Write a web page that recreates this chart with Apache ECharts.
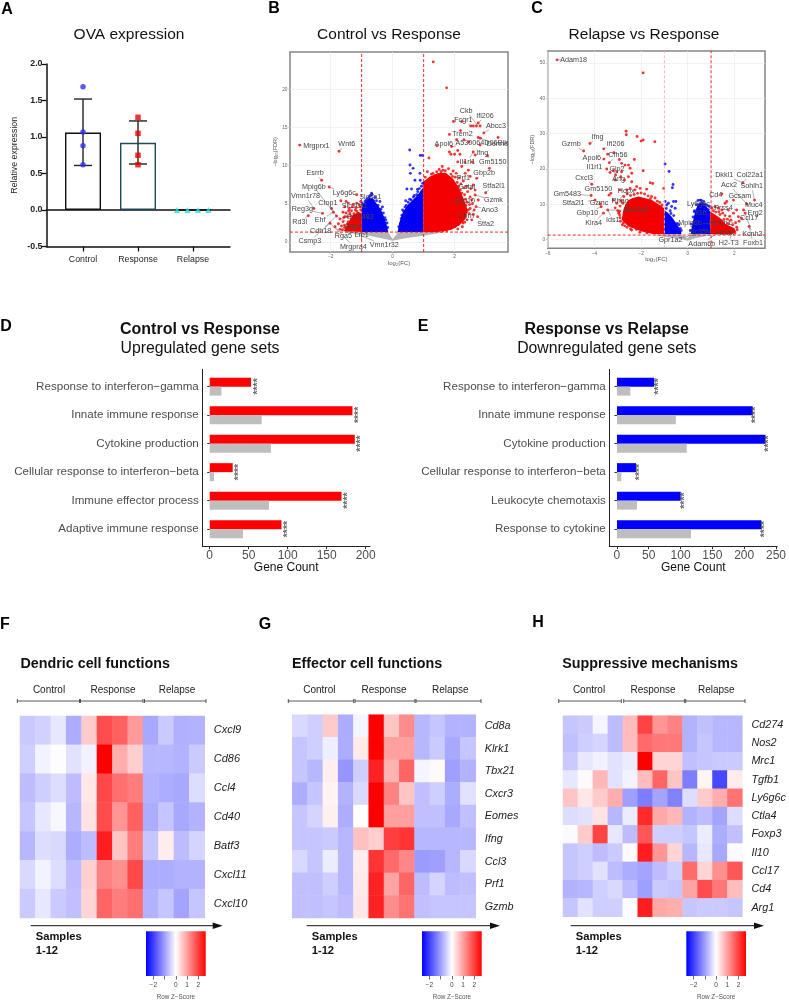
<!DOCTYPE html>
<html>
<head>
<meta charset="utf-8">
<style>html,body{margin:0;padding:0;background:#fff}#c{width:789px;height:1008px}</style>
<script src="https://cdn.jsdelivr.net/npm/echarts@6/dist/echarts.min.js"></script>
</head>
<body>
<div id="c"></div>
<script>
// ---------- Panel A ----------
const ovaGroups = ['Control', 'Response', 'Relapse'];
const ovaMeans = [1.06, 0.92, 0];
const ovaErrLow = [0.61, 0.63, 0];
const ovaErrHigh = [1.52, 1.22, 0];
const ovaControl = [[0, 1.69], [0, 1.07], [0, 0.88], [0, 0.62]];
const ovaResponse = [[1, 1.27], [1, 1.05], [1, 0.75], [1, 0.62]];
const ovaRelapse = [[1.71, 0], [1.90, 0], [2.09, 0], [2.28, 0]];

// ---------- Panel B volcano (log2FC, -log10FDR) ----------
const bGrayCloud = [[-1.6,1.3],[-0.89,0.92],[-0.35,0.48],[0,0.17],[0.4,0.48],[0.94,0.79],[1.69,1.3],[0.18,1.3],[0,0.35],[-0.14,1.3]];
const bBlueCloudL = [[-1,1.3],[-1,4.4],[-0.95,4.9],[-0.85,5.4],[-0.75,5.8],[-0.65,5.8],[-0.55,5.2],[-0.45,4.7],[-0.35,4],[-0.27,3.2],[-0.2,2.4],[-0.14,1.3]];
const bBlueCloudR = [[0.16,1.3],[0.22,2.6],[0.3,3.6],[0.4,4.4],[0.5,4.9],[0.6,5.3],[0.72,5.8],[0.85,6.4],[0.99,7.2],[0.99,1.3]];
const bRedCloudR = [[0.99,1.3],[0.99,7.9],[1.2,8.6],[1.45,9],[1.7,9.1],[1.95,8.3],[2.12,7.2],[2.28,5.8],[2.42,4.2],[2.35,3],[2.15,2.2],[1.9,1.6],[1.47,1.3]];
const bRedCloudL = [[-1,1.3],[-1,3.8],[-1.12,3.9],[-1.25,3.6],[-1.37,3],[-1.48,2.1],[-1.58,1.4]];
const bRedPts = [[1.31,23.6],[1.74,20.2],[-3,12.7],[-1.73,11.9],[1.96,15.8],[2.23,15.8],[2.52,15.2],[2.6,15.2],[2.7,15.2],[2.76,15.6],[2.82,15.2],[2.94,14.3],[1.83,14.1],[2.19,14.6],[2.06,13.4],[2.3,13.4],[2.46,13.1],[2.76,13.7],[2.83,13.6],[3.4,13.7],[1.43,12.6],[1.9,12.5],[2.82,12.7],[3.06,11.3],[1.83,11.8],[1.88,11.5],[2.1,12],[2,11.5],[2.17,11.5],[2.6,11.8],[2.66,11.4],[2.1,10.5],[2.33,10.5],[2.57,10.5],[3.12,9.65],[1.17,11],[2.23,9.9],[2.44,9.4],[2.71,8.34],[2.5,8.6],[2.34,9],[3,6.46],[2.66,6.8],[2.6,7.47],[2.39,7.3],[2.5,5.9],[2.66,6.16],[2.74,3.32],[2.69,4.63],[2.63,4.19],[2.76,5.5],[2.55,5.5],[2.44,4.2],[2.33,3.3],[2.28,4.6],[2.17,2.9],[2.0,2.0],[1.84,2.0],[2.23,6.4],[2.12,7.3],[1.8,9.6],[1.95,9.3],[2.05,9.0],[2.15,8.4],[2.28,8.0],[2.42,6.6],[2.48,4.9],[2.38,3.9],[1.7,9.35],[1.5,9.5],[1.3,9.0],[1.12,9.2],[1.05,8.5],[2.25,2.0],[2.1,1.7],[1.75,1.5],[2.55,2.9],[2.6,3.6],[2.35,5.6],[2.3,7.1],[2.52,7.0],[1.6,9.9],[1.2,8.3],[1.42,9.2],
[2.2,7.6],[2.02,8.5],[1.88,8.9],[1.62,9.4],[1.36,8.7],[1.08,7.9],[2.32,6.2],[2.4,5.2],[2.47,3.7],[2.4,2.9],[2.27,2.5],[2.05,2.25],[1.82,1.75],[1.62,1.45],[2.18,6.8],[2.08,7.8],[2.36,4.8],[2.5,4.4],[2.57,5],[2.2,3],[2.32,2.6],[1.56,9.2],[1.25,8.9],[1.93,8.6],
[-2.29,8.1],[-2.05,7.2],[-1.67,5.4],[-1.5,5.3],[-1.16,6.2],[-2.54,4.4],[-2.26,3.75],[-2.72,3.45],[-1.97,4.4],[-1.91,3.9],[-1.81,3.4],[-2.02,2.45],[-1.86,2],[-1.7,1.66],[-1.54,4.6],[-1.43,5.1],[-1.3,4.6],[-1.16,5.1],[-1.54,3.3],[-1.38,3.75],[-1.27,3.3],[-1.1,3.75],[-1.05,4.6],[-1.6,2.67],[-1.43,2.67],[-1.3,2.2],[-1.16,2.67],[-1.05,2],[-1.5,1.57],[-1.22,1.57],[-1.6,3.9],[-1.33,4.1],[-1.2,4.2],[-1.08,4.9],[-1.65,2.1],[-1.45,3.3],[-1.12,3.1],[-1.25,3.7],[-1.7,3],[-1.03,5.3],
[-1.4,4.4],[-1.28,4.9],[-1.18,4.5],[-1.5,3.8],[-1.35,3.4],[-1.58,3.2],[-1.45,2.4],[-1.55,2.2],[-1.03,4.2],[-1.15,4],[-1.42,4.1],[-1.55,1.9],[-1.62,1.6],[-1.75,2.4],[-1.4,1.8]];
const bBluePts = [[0.55,12.05],[0.89,11.35],[0.96,11.35],[0.56,10.1],[0.66,9.65],[0.57,9],[0.88,9],[0.72,8.1],[0.89,8.1],[0.46,6.95],[0.61,6.95],[0.81,6.6],[0.67,5.9],[0.94,6.6],[-0.68,6.4],[-0.81,5.7],[-0.57,5.85],[-0.41,5.3],[-0.89,5.3],[-0.33,4.6],[0.4,4.6],[0.5,5.2],[0.78,6.2],[0.93,7.3],[-0.72,6.1],[-0.62,5.4],[-0.95,4.9],[-0.47,4.8],[-0.25,3.2],[-0.18,2.5],[0.3,3.5],[0.25,2.4],[0.36,4.0],[0.6,5.5],[0.86,7.0],
[-0.76,5.9],[-0.86,5.5],[-0.52,5.4],[-0.38,4.3],[-0.3,3.8],[-0.22,2.9],[-0.16,1.9],[0.2,2],[0.28,3.1],[0.44,4.8],[0.55,5.6],[0.7,6.1],[0.8,6.9],[0.97,7.7],[0.42,5.4],[-0.98,5.1],[-0.66,6.2],[0.32,4.2]];
const bGenes = [
 ['Ckb',2.37,17.2,2.76,15.2],['Ifi206',2.98,16.55,2.76,15.6],['Fcgr1',2.28,16,2.52,15.2],['Abcc3',3.33,15.24,2.94,14.3],['Trem2',2.25,14.2,2.06,13.4],['Apol6',1.65,12.9,1.43,12.6],['A530064D06Rik',2.87,13,1.9,12.5],['Dennd',3.38,12.8,2.83,13.6],['Ifng',2.89,11.7,2.66,11.4],['Il1rl1',2.41,10.5,2.6,11.8],['Gm5150',3.23,10.5,3.06,11.3],['Gbp2b',2.95,9.04,2.71,8.34],['Prf1',2.28,8.34,2.5,8.6],['Stfa2l1',3.26,7.34,3,6.46],['Gstal',2.39,7.16,2.6,7.47],['Gzmk',3.25,5.46,2.66,6.16],['Gbp10',2.31,5.33,2.55,5.5],['Ano3',3.13,4.24,2.69,4.63],['Cbrn',2.37,3.36,2.63,4.19],['Stfa2',3,2.4,2.74,3.32],
 ['Mrgprx1',-2.46,12.62,-3,12.7],['Wnt6',-1.48,12.8,-1.73,11.9],['Esrrb',-2.5,9,-2.29,8.1],['Mpig6b',-2.54,7.25,-1.91,3.9],['Ly6g6c',-1.56,6.42,-2.05,7.2],['Vmn1r78',-2.81,5.98,-2.54,4.4],['Ctop1',-2.09,5.15,-1.81,3.4],['Slc3a1',-0.72,5.94,-1.16,6.2],['Reg3g',-2.91,4.32,-2.26,3.75],['Ehf',-2.34,2.84,-1.91,3.9],['Rd3l',-3,2.58,-2.72,3.45],['Slc30a1',-1.22,4.7,-1.5,5.3],['Gm5483',-1.05,3.3,-1.54,3.3],['Aqp8',-1.27,2.14,-1.81,3.4],['Cdh18',-2.32,1.44,-1.81,3.4],['Lrp1',-1,0.92,-1.7,1.66],['Csmp3',-2.67,0.13,-2.02,2.45],['Rga5',-1.59,0.74,-2.02,2.45],['Mrgpra4',-1.27,-0.61,-1.86,2],['Vmn1r32',-0.27,-0.39,-1.5,1.57]];

// ---------- Panel C volcano ----------
const cGrayCloud = [[-1.47,1.3],[-1.01,0.85],[-0.26,0.1],[0,-0.3],[0.31,0.4],[1.03,1.3],[0.13,1.3],[0,0.4],[-0.26,1.3]];
const cRedCloudL = [[-1.01,1.5],[-1.01,8.9],[-1.3,10.2],[-1.54,11.2],[-1.85,11.8],[-2.11,12.2],[-2.35,11.8],[-2.54,11.2],[-2.68,9.8],[-2.76,8.4],[-2.83,5.6],[-2.54,3.7],[-1.97,2.3],[-1.47,1.5]];
const cBlueCloudL = [[-1.01,1.5],[-1.01,8.4],[-0.85,7.6],[-0.69,6.5],[-0.55,5.2],[-0.4,3.7],[-0.3,2.5],[-0.26,1.5]];
const cBlueCloudR = [[0.13,1.5],[0.17,3.6],[0.24,5.6],[0.3,7.4],[0.39,9.3],[0.5,10.3],[0.6,10.8],[0.72,10],[0.81,9.3],[0.97,7.8],[0.97,1.5]];
const cRedCloudR = [[0.97,1.5],[0.97,7.8],[1.15,7.2],[1.31,6.5],[1.48,5.6],[1.6,4.6],[1.82,3.8],[2,3.2],[2.05,2.3],[1.89,1.5]];
const cRedPts = [[-5.6,50.9],[-1.91,47.2],[-2.64,30.7],[-2.63,29.7],[-2.17,29.2],[-1.91,28.2],[-2,27.9],[-1.41,27.7],[-4.19,27.2],[-4.46,25.1],[-3.6,25.7],[-3.43,24.2],[-3.16,24.6],[-3.59,22.8],[-3.36,21.8],[-2.29,22.7],[-2.93,22.7],[-2.83,21.6],[-3.47,20],[-3.33,19],[-3.19,19.5],[-3.04,19.2],[-2.69,21.1],[-2.54,21.1],[-2.47,20.2],[-1.91,19.5],[-2.83,19.2],[-2.4,18.8],[-2.54,17.8],[-2.71,16.9],[-3.11,16.9],[-3.09,18.3],[-2.87,17.8],[-2.4,16.4],[-1.61,16.1],[-4.11,15.7],[-2.19,15],[-2.04,14.5],[-1.76,14.3],[-1.5,15.9],[-1.03,14.5],[-4.14,12.5],[-3.97,11.2],[-3.76,10.1],[-3.71,9.3],[-3.61,7.5],[-3.43,8.4],[-3.37,12.6],[-3.29,13.1],[-3.19,11.2],[-3.04,10.3],[-2.9,14.1],[-2.74,12.2],[-2.61,14.1],[-2.47,14.5],[-2.26,14.1],[-3.11,9],[-2.96,7.5],[-2.9,9.5],[-2.6,13],[-2.3,12.8],[-2,13.2],[-1.7,12.4],[-1.4,11.8],[-1.2,10.5],[-1.1,9.8],[-2.9,6.2],[-2.75,4.8],[-2.6,3.5],[-2.2,2.9],[-2.85,11],[-2.45,12.5],[-2.15,13.1],[-1.85,12.9],[-1.55,12.2],
[-2.92,8],[-2.88,5.2],[-2.7,3.9],[-2.45,3],[-2.05,2.1],[-1.75,1.9],[-1.3,10.9],[-1.15,9.3],[-1.6,11.6],[-2.78,10.3],[-3,8.2],[-2.92,7],[-2.8,4.2],[-2.4,2.7],
[1.46,12.9],[1.6,10.3],[1.67,10.8],[1.96,11.2],[2.36,16.1],[2.86,11.2],[2.53,10.1],[2.39,8.4],[2.46,7.5],[2.31,6],[2.63,3.7],[2.1,8.4],[2.17,6.5],[1.96,7.5],[1.74,8.4],[1.46,8.4],[1.31,8.9],[1.17,9.3],[1.03,8.9],[1.2,7.8],[1.6,6.8],[1.85,5.5],[2.05,4.8],[2.1,3.5],[2,2.4],[1.5,7.5],[2.2,5.2],[1.1,8.2],
[1.38,7.1],[1.7,5.8],[1.55,5.7],[1.92,4.2],[2.12,2.8],[1.72,4.6],[2.02,1.9],[1.8,6.6],[1.33,7.9]];
const cBluePts = [[-0.97,21.4],[-0.8,19.3],[-0.63,15.6],[-0.66,14.7],[-0.97,10.8],[-0.83,10.3],[-0.61,10.8],[-0.51,10.8],[-0.69,9.4],[-0.54,8.9],[-0.9,9.8],[-0.75,8.2],[0.44,11.1],[0.53,11.2],[0.68,10.8],[0.75,10],[0.88,8.5],[0.92,9.4],[0.3,8.2],[0.48,9.8],[0.66,8.9],[0.35,6.5],[-0.32,3.2],[-0.45,4.6],
[-0.92,8.8],[-0.6,6.8],[-0.72,7.4],[-0.38,4.2],[-0.28,2.6],[0.12,2.6],[0.16,4.4],[0.23,6.4],[0.28,7.9],[0.38,9.9],[0.58,11.1],[0.84,9.7]];
const cGenes = [
 ['Adam18',-4.89,50.8,-5.6,50.9],['Ifng',-3.87,29.1,-4.19,27.2],['Gzmb',-5,27,-4.46,25.1],['Ifi206',-3.09,27.2,-3.6,25.7],['Apol6',-4.11,23.2,-3.59,22.8],['Cfh56',-2.99,24,-3.36,21.8],['Il1rl1',-4,20.5,-3.47,20],['Cxcl3',-4.44,17.5,-4.11,15.7],['Glp2',-3.03,19.9,-3.33,19],['Ang',-2.96,17.2,-3.19,19.5],['Gm5150',-3.83,14.4,-3.29,13.1],['Gm5483',-5.16,13,-4.14,12.5],['Stfa2l1',-4.9,10.3,-3.97,11.2],['Gzmc',-3.8,10.3,-3.76,10.1],['Rhag',-2.9,10.9,-3.19,11.2],['Hopx',-2.64,13.8,-3.04,10.3],['Gbp10',-4.3,7.55,-3.71,9.3],['Klra4',-4.03,4.8,-3.61,7.5],['Slc15a2',-2.21,8.3,-3.43,8.4],['Ids1',-3.21,5.66,-3.43,8.4],
 ['Dkkl1',1.56,18.2,2.36,16.1],['Col22a1',2.66,18.3,2.36,16.1],['Acx2',1.77,15.5,2.53,10.1],['Sohlh1',2.74,15.1,2.86,11.2],['Cd4',1.2,12.7,1.46,12.9],['Gcsam',2.23,12.4,1.96,11.2],['Muc4',2.83,9.7,2.53,10.1],['Ly6g6c',0.46,10,1.17,9.3],['Prss4',1.53,9,2.1,8.4],['Il1b',0.57,7.45,1.03,8.9],['Erg2',2.89,7.4,2.39,8.4],['Ccl17',2.63,6,2.31,6],['Mpig6b',0.1,4.6,1.2,4.6],['Hmcn1',1.39,4.8,1.96,4.9],['Kcnh3',2.77,1.7,2.46,7.5],['Foxb1',2.8,-1,2.63,3.7],['H2-T3',1.76,-1,1.89,1.9],['Adam6b',0.6,-1.13,1.3,2],['Gpr1a2',-0.74,-0.1,0.6,1.8],['Slc35f4',0.53,2.1,1,2.1],['Hs3st',1.6,1.9,1.3,2.4]];

// ---------- Panels D, E ----------
const dCategories = ['Response to interferon\u2212gamma','Innate immune response','Cytokine production','Cellular response to interferon\u2212beta','Immune effector process','Adaptive immune response'];
const dObserved = [53,183,186,29.5,169,92];
const dExpected = [15,66.6,78.6,5.5,76,42.7];
const eCategories = ['Response to interferon\u2212gamma','Innate immune response','Cytokine production','Cellular response to interferon\u2212beta','Leukocyte chemotaxis','Response to cytokine'];
const eObserved = [58.3,212,231.8,29.7,99.5,225.5];
const eExpected = [20.8,92,109,6.8,31.2,115.6];

// ---------- Panels F, G, H (row Z-scores) ----------
const fGenes = ['Cxcl9','Cd86','Ccl4','Cd40','Batf3','Cxcl11','Cxcl10'];
const fValues = [
 [-.56,-.48,-.25,-.85,.55,1.85,1.65,1.05,-.9,-.55,-.82,-.8],
 [-.5,-.12,-.02,-.3,-.15,2.65,.85,.5,-.75,-.75,-.8,-.55],
 [-.7,-.5,-.35,-.7,.25,1.9,1.5,1.35,-.8,-.85,-.9,-.35],
 [-.6,-.25,-.08,-.75,.3,1.85,1.1,1.65,-.85,-.6,-.9,-.8],
 [-.75,-.35,-.4,-.85,-.7,2.35,.6,1.35,-.6,.2,-.7,-.45],
 [-.4,-.12,-.35,-.7,.5,1.3,1.15,1.9,-.85,-.85,-.8,-.8],
 [-.55,-.25,-.55,-.65,.45,1.6,1.35,1.5,-.8,-.6,-.95,-.6]];
const gGenes = ['Cd8a','Klrk1','Tbx21','Cxcr3','Eomes','Ifng','Ccl3','Prf1','Gzmb'];
const gValues = [
 [-.4,-.5,.55,-.85,-.1,2.65,.6,1.2,-.75,-.6,-.8,-.8],
 [-.6,-.5,-.18,-.85,.22,2.65,1,1,-.75,-.55,-.9,-.6],
 [-.6,-.75,.18,-1.1,-.5,2.3,.8,1.6,-.1,.05,-1,-.8],
 [-.85,-.6,.12,-.8,-.4,2.65,1.3,.6,-.65,-.5,-.85,-.3],
 [-.6,-.45,.16,-.85,0,2.65,1,1,-.65,-.65,-.9,-.65],
 [-.6,-.6,-.55,-.75,.65,.5,2,2.1,-.75,-.75,-.75,-.75],
 [-.4,-.6,-.2,-.75,.2,2.1,1.55,1.25,-1.05,-1,-.75,-.4],
 [-.65,-.65,-.5,-.75,.22,2.3,.95,1.6,-.7,-.45,-.7,-.65],
 [-.65,-.65,-.6,-.7,.25,2.3,1.2,1.45,-.65,-.6,-.6,-.6]];
const hGenes = ['Cd274','Nos2','Mrc1','Tgfb1','Ly6g6c','Ctla4','Foxp3','Il10','Ccl17','Cd4','Arg1'];
const hValues = [
 [-.6,-.55,-.1,-.7,.7,1.95,1.1,1.3,-.8,-.65,-.75,-.75],
 [-.65,-.5,-.45,-.7,.7,1.55,1.4,1.4,-.8,-.6,-.75,-.75],
 [-.55,-.25,-.15,-.3,-.2,2.65,.45,.45,-.65,-.6,-.55,-.55],
 [-.25,.05,.75,-.3,-.12,.7,1.6,.6,-1.35,.1,-1.9,.2],
 [.6,.25,.55,.85,-1,-1.35,-.95,-1.3,-.35,.55,.85,1.45],
 [-.35,-.3,.3,-.75,-.2,2.2,.9,.75,-.8,-.7,-.95,-.35],
 [-.05,.55,1.95,-.25,-.7,1.75,-.5,-.5,-.6,-.2,-.85,-.65],
 [-.6,-.5,-.7,-.55,.05,2.35,1.1,.45,-.75,-.25,-.9,-.05],
 [-.6,-.5,-.3,-.7,-.85,-.95,-.7,-.5,1.55,.45,1.15,1.75],
 [-.8,-.75,-.5,-.4,-.7,-1,-.55,-.6,.95,1.85,1.4,.7],
 [-.6,-.3,-.5,-.5,-.02,2.35,.9,.85,-.6,-.55,-.55,-.6]];
const sampleColumns = ['1','2','3','4','5','6','7','8','9','10','11','12'];
const groupNames = ['Control','Response','Relapse'];
const zTicks = [-2,-1,0,1,2];

// ---------- builders ----------
const FONT = '"Liberation Sans", Arial, sans-serif';
const option = {animation:false, backgroundColor:'#fff', textStyle:{fontFamily:FONT},
  grid:[], xAxis:[], yAxis:[], series:[], graphic:[], visualMap:[]};
const heatSeriesIdx = [];
function txt(text,x,y,size,o){o=o||{};
  option.graphic.push({type:'text',x:x,y:y,rotation:o.rotation||0,silent:true,style:{text:text,fontSize:size,fontFamily:FONT,fontWeight:o.weight||'normal',fontStyle:o.style||'normal',fill:o.fill||'#111',align:o.align||'center',verticalAlign:'middle'}});
}
function seg(x1,y1,x2,y2,color,w){option.graphic.push({type:'line',silent:true,shape:{x1:x1,y1:y1,x2:x2,y2:y2},style:{stroke:color||'#444',lineWidth:w||1}});}
function addGrid(l,t,w,h,extra){option.grid.push(Object.assign({left:l,top:t,width:w,height:h,containLabel:false},extra||{}));return option.grid.length-1;}

// --- Panel A ---
(function(){
  const g=addGrid(46.5,64,183.5,182.5);
  const xi=option.xAxis.length, yi=option.yAxis.length;
  option.xAxis.push({type:'value',gridIndex:g,min:-0.664,max:2.673,position:'bottom',axisLine:{onZero:false,lineStyle:{color:'#111',width:1.5}},
    axisTick:{customValues:[0,1,2],length:5,lineStyle:{color:'#111',width:1.3}},splitLine:{show:false},
    axisLabel:{customValues:[0,1,2],formatter:v=>ovaGroups[Math.round(v)],fontSize:8.8,color:'#222',margin:8.5}});
  option.xAxis.push({type:'value',gridIndex:g,min:-0.664,max:2.673,axisLine:{show:true,onZero:true,lineStyle:{color:'#111',width:1.5}},axisTick:{show:false},axisLabel:{show:false},splitLine:{show:false}});
  option.yAxis.push({type:'value',gridIndex:g,min:-0.5,max:2,interval:0.5,axisLine:{show:true,onZero:false,lineStyle:{color:'#111',width:1.5}},
    axisTick:{show:true,length:5,lineStyle:{color:'#111',width:1.3}},splitLine:{show:false},
    axisLabel:{fontSize:8.8,fontWeight:'bold',color:'#222',margin:4,formatter:v=>v.toFixed(1)},
    name:'Relative expression',nameLocation:'middle',nameGap:27,nameTextStyle:{fontSize:8.8,color:'#222'}});
  const colors=['#111','#1f4a5a','#111'];
  option.series.push({type:'bar',xAxisIndex:xi,yAxisIndex:yi,barWidth:36,silent:true,
    data:ovaMeans.map((m,i)=>({value:[i,m],itemStyle:{color:'rgba(255,255,255,0)',borderColor:colors[i],borderWidth:1.4}}))});
  option.series.push({type:'custom',xAxisIndex:xi,yAxisIndex:yi,silent:true,clip:false,encode:{x:0,y:[1,2]},
    data:ovaErrLow.map((lo,i)=>[i,lo,ovaErrHigh[i]]).slice(0,2),
    renderItem:(p,api)=>{const a=api.coord([api.value(0),api.value(1)]),b=api.coord([api.value(0),api.value(2)]);const s={stroke:'#222',lineWidth:1.4};
      return {type:'group',children:[
        {type:'line',shape:{x1:a[0],y1:a[1],x2:b[0],y2:b[1]},style:s},
        {type:'line',shape:{x1:a[0]-9,y1:a[1],x2:a[0]+9,y2:a[1]},style:s},
        {type:'line',shape:{x1:b[0]-9,y1:b[1],x2:b[0]+9,y2:b[1]},style:s}]};}});
  const sc=(d,sym,size,col)=>option.series.push({type:'scatter',xAxisIndex:xi,yAxisIndex:yi,silent:true,data:d,symbol:sym,symbolSize:size,itemStyle:{color:col},z:5});
  sc(ovaControl,'circle',5.5,'#2f2ff0');
  sc(ovaResponse,'rect',5.5,'#f00000');
  sc(ovaRelapse,'triangle',6.2,'#25e0e0');
})();

// --- Volcano ---
function volcano(o){
  const g=addGrid(o.left,o.top,o.width,o.height,{show:true,borderColor:'#858585',borderWidth:1.5,backgroundColor:'#fff'});
  const xi=option.xAxis.length, yi=option.yAxis.length;
  const lab={fontSize:4.8,color:'#666',margin:2.5};
  option.xAxis.push({type:'value',gridIndex:g,min:o.xmin,max:o.xmax,axisLine:{show:false,onZero:false},
    axisTick:{customValues:o.xticks,length:1.5,lineStyle:{color:'#888',width:.5}},
    axisLabel:Object.assign({customValues:o.xticks,formatter:v=>String(v).replace('-','\u2212')},lab),
    splitLine:{show:true,lineStyle:{color:'#ededed',width:.7}},
    name:'log\u2082(FC)',nameLocation:'middle',nameGap:8.5,nameTextStyle:{fontSize:6,color:'#555'}});
  option.yAxis.push({type:'value',gridIndex:g,min:o.ymin,max:o.ymax,axisLine:{show:false,onZero:false},
    axisTick:{customValues:o.yticks,length:1.5,lineStyle:{color:'#888',width:.5}},
    axisLabel:Object.assign({customValues:o.yticks},lab),
    splitLine:{show:true,lineStyle:{color:'#ededed',width:.7}},
    name:'\u2212log\u2081\u2080(FDR)',nameLocation:'middle',nameGap:o.yNameGap,nameTextStyle:{fontSize:5.5,color:'#555'}});
  const cloud=(poly,fill,z)=>option.series.push({type:'custom',xAxisIndex:xi,yAxisIndex:yi,silent:true,clip:true,z:z,encode:{x:0,y:1},data:poly,
    renderItem:(p,api)=>p.dataIndex?null:{type:'polygon',shape:{points:poly.map(q=>api.coord(q))},style:{fill:fill}}});
  cloud(o.gray,'#b4b4b4',2);
  o.blue.forEach(c=>cloud(c,'#0000f5',3));
  o.red.forEach(c=>cloud(c,'#f50000',3));
  const pts=(d,col)=>option.series.push({type:'scatter',xAxisIndex:xi,yAxisIndex:yi,silent:true,data:d,symbol:'circle',symbolSize:2.9,itemStyle:{color:col},z:4});
  pts(o.bluePts,'#0000f5');
  pts(o.redPts,'#f50000');
  // dashed significance thresholds
  const refs=[{x:-1,col:o.leftLine},{x:1,col:'#f01010'},{y:1.3,col:'#f01010'}];
  option.series.push({type:'custom',xAxisIndex:xi,yAxisIndex:yi,silent:true,clip:true,z:6,encode:{x:0,y:1},
    data:refs.map(r=>[r.x===undefined?0:r.x,r.y===undefined?0:r.y]),
    renderItem:(p,api)=>{const r=refs[p.dataIndex];
      const a=r.y===undefined?api.coord([r.x,o.ymin]):api.coord([o.xmin,r.y]);
      const b=r.y===undefined?api.coord([r.x,o.ymax]):api.coord([o.xmax,r.y]);
      return {type:'line',shape:{x1:a[0],y1:a[1],x2:b[0],y2:b[1]},style:{stroke:r.col,lineWidth:.9,lineDash:[3,2]}};}});
  option.series.push({type:'custom',xAxisIndex:xi,yAxisIndex:yi,silent:true,clip:false,z:7,encode:{x:0,y:1},
    data:o.genes.map(r=>[r[1],r[2]]),
    renderItem:(p,api)=>{const r=o.genes[p.dataIndex],c=api.coord([r[1],r[2]]),t=api.coord([r[3],r[4]]);
      const hw=r[0].length*1.9+1,hh=4,dx=t[0]-c[0],dy=t[1]-c[1];
      const k=Math.min(dx?hw/Math.abs(dx):9,dy?hh/Math.abs(dy):9);
      const kids=[{type:'text',style:{text:r[0],x:c[0],y:c[1],fontSize:7.2,fontFamily:FONT,fill:'#454545',align:'center',verticalAlign:'middle'}}];
      if(k<1)kids.unshift({type:'line',shape:{x1:c[0]+dx*k,y1:c[1]+dy*k,x2:t[0],y2:t[1]},style:{stroke:'#555',lineWidth:.45}});
      return {type:'group',children:kids};}});
}
volcano({left:290,top:52,width:218,height:200,xmin:-3.31,xmax:3.72,ymin:-1.31,ymax:24.9,xticks:[-2,0,2],yticks:[0,5,10,15,20],yNameGap:8,leftLine:'#f01010',
  gray:bGrayCloud,blue:[bBlueCloudL,bBlueCloudR],red:[bRedCloudR,bRedCloudL],bluePts:bBluePts,redPts:bRedPts,genes:bGenes});
volcano({left:547.7,top:51,width:217.3,height:197.3,xmin:-6,xmax:3.31,ymin:-2.45,ymax:53.4,xticks:[-6,-4,-2,0,2],yticks:[0,10,20,30,40,50],yNameGap:8,leftLine:'#ffa8a8',
  gray:cGrayCloud,blue:[cBlueCloudL,cBlueCloudR],red:[cRedCloudL,cRedCloudR],bluePts:cBluePts,redPts:cRedPts,genes:cGenes});

// --- Gene-set bars ---
function geneBars(o){
  const outer=addGrid(o.left,369.3,o.width,176.9);
  const inner=addGrid(o.left,372.4,o.width,171);
  const xa=option.xAxis.length, ya=option.yAxis.length;
  option.xAxis.push({type:'value',gridIndex:outer,min:o.xmin,max:o.xmax,axisLine:{onZero:false,lineStyle:{color:'#222',width:1}},
    axisTick:{customValues:o.ticks,length:3,lineStyle:{color:'#333'}},splitLine:{show:false},
    axisLabel:{customValues:o.ticks,fontSize:12,color:'#4d4d4d',margin:3},
    name:'Gene Count',nameLocation:'middle',nameGap:13,nameTextStyle:{fontSize:12,color:'#111'}});
  option.yAxis.push({type:'value',gridIndex:outer,min:-0.6,max:5.6,inverse:true,axisLine:{onZero:false,lineStyle:{color:'#222',width:1}},axisTick:{show:false},axisLabel:{show:false},splitLine:{show:false}});
  option.xAxis.push({type:'value',gridIndex:inner,min:o.xmin,max:o.xmax,show:false});
  option.yAxis.push({type:'category',gridIndex:inner,inverse:true,data:o.cats,axisLine:{show:false},axisTick:{show:true,length:2.5,alignWithLabel:true,lineStyle:{color:'#333'}},
    axisLabel:{fontSize:11.6,color:'#4d4d4d',margin:3.5,interval:0}});
  option.series.push({type:'bar',xAxisIndex:xa+1,yAxisIndex:ya+1,barWidth:9,barGap:0,silent:true,data:o.obs,itemStyle:{color:o.color}});
  option.series.push({type:'bar',xAxisIndex:xa+1,yAxisIndex:ya+1,barWidth:9,barGap:0,silent:true,data:o.exp,itemStyle:{color:'#bebebe'}});
  option.series.push({type:'scatter',xAxisIndex:xa,yAxisIndex:ya,silent:true,symbolSize:0.01,
    data:o.obs.map((v,i)=>[v+o.starGap,i]),z:5,
    label:{show:true,position:'inside',formatter:'****',rotate:90,fontSize:10.5,fontWeight:'bold',color:'#444'}});
}
geneBars({left:202.3,width:167.7,xmin:-9.5,xmax:205.5,ticks:[0,50,100,150,200],cats:dCategories,obs:dObserved,exp:dExpected,color:'#ff0000',starGap:8.5});
geneBars({left:609.3,width:169,xmin:-12,xmax:252,ticks:[0,50,100,150,200,250],cats:eCategories,obs:eObserved,exp:eExpected,color:'#0000ff',starGap:7.5});

// --- Heatmaps ---
function heatmap(o){
  const g=addGrid(o.x0,o.y0,o.x1-o.x0,o.y1-o.y0);
  const xi=option.xAxis.length, yi=option.yAxis.length;
  option.xAxis.push({type:'category',gridIndex:g,data:sampleColumns,show:false});
  option.yAxis.push({type:'category',gridIndex:g,data:o.genes,inverse:true,position:'right',axisLine:{show:false},axisTick:{show:false},splitLine:{show:false},
    axisLabel:{interval:0,fontSize:o.labelSize,fontStyle:'italic',color:'#222',margin:o.labelGap}});
  const d=[];o.values.forEach((row,r)=>row.forEach((v,c)=>d.push([c,r,v])));
  option.series.push({type:'heatmap',xAxisIndex:xi,yAxisIndex:yi,silent:true,data:d,progressive:0});
  heatSeriesIdx.push(option.series.length-1);
  // colour key, drawn on its own Z-score axis
  const cg=addGrid(o.keyX,931.3,59.7,44.7);
  const cx=option.xAxis.length, cy=option.yAxis.length;
  option.xAxis.push({type:'value',gridIndex:cg,min:-2.65,max:2.65,axisLine:{show:false,onZero:false},
    axisTick:{customValues:zTicks,length:3.5,lineStyle:{color:'#333',width:.7}},splitLine:{show:false},
    axisLabel:{customValues:[-2,0,1,2],fontSize:6.5,color:'#444',margin:5.5,formatter:v=>String(v).replace('-','\u2212')},
    name:'Row Z\u2212Score',nameLocation:'middle',nameGap:18,nameTextStyle:{fontSize:6.3,color:'#555'}});
  option.yAxis.push({type:'value',gridIndex:cg,min:0,max:1,show:false});
  option.series.push({type:'custom',xAxisIndex:cx,yAxisIndex:cy,silent:true,encode:{x:0,y:1},data:[[-2.65,0],[2.65,1]],
    renderItem:(p,api)=>{if(p.dataIndex)return null;const a=api.coord([-2.65,1]),b=api.coord([2.65,0]);
      return {type:'rect',shape:{x:a[0],y:a[1],width:b[0]-a[0],height:b[1]-a[1]},style:{fill:new echarts.graphic.LinearGradient(0,0,1,0,[{offset:0,color:'#0000ff'},{offset:.5,color:'#ffffff'},{offset:1,color:'#ff0000'}])}};}});
  // annotations
  txt(o.title,o.titleX,664,14.3,{weight:'bold',align:'left',fill:'#111'});
  o.brackets.forEach((b,i)=>{
    seg(b[0],701,b[1],701,'#444',.9);seg(b[0],699,b[0],703,'#444',.9);seg(b[1],699,b[1],703,'#444',.9);
    txt(groupNames[i],o.groupX[i],690,10,{fill:'#222'});
  });
  seg(o.arrow[0],925.7,o.arrow[1]-8,925.7,'#111',1);
  option.graphic.push({type:'polygon',silent:true,shape:{points:[[o.arrow[1]-10,922.5],[o.arrow[1],925.7],[o.arrow[1]-10,929]]},style:{fill:'#111'}});
  txt('Samples',o.sampleX,937,11.2,{weight:'bold',align:'left'});
  txt('1-12',o.sampleX,951,11.2,{weight:'bold',align:'left'});
}
heatmap({x0:20,x1:204.7,y0:716,y1:918,genes:fGenes,values:fValues,labelSize:11,labelGap:9,keyX:146,title:'Dendric cell functions',titleX:20.5,
  brackets:[[17.3,79.5],[80.5,143],[144.5,206]],groupX:[49,113,177],arrow:[30.7,222.7],sampleX:35.7});
heatmap({x0:292.3,x1:475.7,y0:714.7,y1:918,genes:gGenes,values:gValues,labelSize:10.8,labelGap:9,keyX:422,title:'Effector cell functions',titleX:292,
  brackets:[[288.3,353.7],[355,415],[416,481]],groupX:[319.3,384,450.3],arrow:[306.7,500],sampleX:311.7});
heatmap({x0:563,x1:742.7,y0:715.7,y1:916.7,genes:hGenes,values:hValues,labelSize:10.8,labelGap:9,keyX:686.3,title:'Suppressive mechanisms',titleX:562.3,
  brackets:[[558.7,621.3],[623.7,684.7],[685.7,745]],groupX:[589,653,716.3],arrow:[570.7,764],sampleX:575.7});

option.visualMap=[{type:'continuous',show:false,min:-2.65,max:2.65,seriesIndex:heatSeriesIdx,inRange:{color:['#0000ff','#ffffff','#ff0000']}}];

// --- Titles and panel letters ---
txt('OVA expression',129,35,15.5,{});
txt('Control vs Response',389,35,15.5,{});
txt('Relapse vs Response',644,35,15.5,{});
txt('Control vs Response',200,330,16,{weight:'bold'});
txt('Upregulated gene sets',200,348.5,15.8,{});
txt('Response vs Relapse',606.7,330,16,{weight:'bold'});
txt('Downregulated gene sets',606.7,348.5,15.8,{});
[['A',7,10],['B',274,9],['C',537,9],['D',6,327],['E',423,327],['F',5,625],['G',265,625],['H',538,623]].forEach(a=>txt(a[0],a[1],a[2],16,{weight:'bold',fill:'#000'}));

const chart=echarts.init(document.getElementById('c'),null,{width:789,height:1008});
chart.setOption(option);
</script>
</body>
</html>
